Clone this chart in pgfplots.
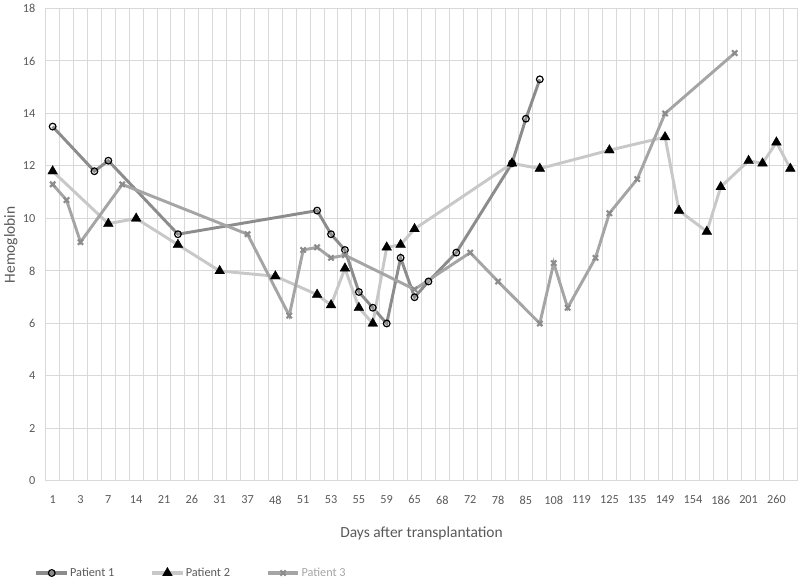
\documentclass[border=0pt]{standalone}
\usepackage{fontspec}
\setmainfont{Carlito}
\usepackage{pgfplots}
\pgfplotsset{compat=1.18}
\definecolor{gridc}{HTML}{D9D9D9}
\definecolor{txt}{HTML}{595959}
\definecolor{pone}{HTML}{8C8C8C}
\definecolor{ponefill}{HTML}{D9D9D9}
\definecolor{ptwo}{HTML}{C8C8C8}
\definecolor{pthree}{HTML}{A5A5A5}
\definecolor{pthreemark}{HTML}{8C8C8C}
\begin{document}
\begin{tikzpicture}
\useasboundingbox (0,0) rectangle (600pt,438pt);
\begin{axis}[
  at={(34.275pt,77.25pt)}, anchor=south west,
  width=563.7pt, height=354.4pt, scale only axis,
  xmin=-0.5, xmax=53.5, ymin=0, ymax=18,
  xtick={0,2,...,52},
  xticklabels={1,3,7,14,21,26,31,37,48,51,53,55,59,65,68,72,78,85,108,119,125,135,149,154,186,201,260},
  minor xtick={-0.5,0.5,...,53.5},
  ytick={0,2,...,18},
  xminorgrids=true, ymajorgrids=true, xmajorgrids=false,
  grid style={gridc, line width=0.75pt},
  minor grid style={gridc, line width=0.75pt},
  axis line style={draw=none},
  major tick length=0pt, minor tick length=0pt,
  tick style={draw=none},
  /pgf/number format/assume math mode=true,
  ticklabel style={font=\fontsize{9.2}{11}\selectfont, text=txt},
  xticklabel style={yshift=-7.5pt},
  yticklabel style={xshift=-4.3pt},
  xlabel={Days after transplantation},
  ylabel={Hemoglobin},
  label style={font=\fontsize{11.6}{14}\selectfont, text=txt},
  xlabel style={at={(axis description cs:0.5,-0.110)}, anchor=center},
  ylabel style={at={(axis description cs:-0.0465,0.5)}, anchor=center, rotate=0},
  legend columns=3,
  legend style={at={(axis description cs:-0.0150,-0.1947)}, anchor=west,
    draw=none, fill=none, inner sep=0pt,
    font=\fontsize{9.2}{11}\selectfont, text=txt,
    nodes={inner sep=1pt},
    /tikz/every even column/.append style={column sep=26pt}},
  legend cell align=left,
  legend image code/.code={\draw[mark repeat=2,mark phase=2,#1,line width=2.6pt] plot coordinates {(0pt,0pt) (11.5pt,0pt) (23pt,0pt)};},
  clip=false,
]
\addplot[pone, line width=2.2pt, mark=o, mark size=2.5pt,
  mark options={solid, draw=black, fill=ponefill, line width=0.9pt}]
coordinates {(0,13.5)(3,11.8)(4,12.2)(9,9.4)(19,10.3)(20,9.4)(21,8.8)(22,7.2)(23,6.6)(24,6.0)(25,8.5)(26,7.0)(27,7.6)(29,8.7)(33,12.1)(34,13.8)(35,15.3)};
\addlegendentry{Patient 1}
\addplot[ptwo, line width=2.2pt, mark=triangle*, mark size=4.2pt,
  mark options={solid, draw=black, fill=black, line width=0.3pt}]
coordinates {(0,11.8)(4,9.8)(6,10.0)(9,9.0)(12,8.0)(16,7.8)(19,7.1)(20,6.7)(21,8.1)(22,6.6)(23,6.0)(24,8.9)(25,9.0)(26,9.6)(33,12.1)(35,11.9)(40,12.6)(44,13.1)(45,10.3)(47,9.5)(48,11.2)(50,12.2)(51,12.1)(52,12.9)(53,11.9)};
\addlegendentry{Patient 2}
\addplot[pthree, line width=2.2pt, mark=x, mark size=2.8pt,
  mark options={solid, draw=pthreemark, line width=1.6pt}]
coordinates {(0,11.3)(1,10.7)(2,9.1)(5,11.3)(14,9.4)(17,6.3)(18,8.8)(19,8.9)(20,8.5)(21,8.6)(26,7.3)(30,8.7)(32,7.6)(35,6.0)(36,8.3)(37,6.6)(39,8.5)(40,10.2)(42,11.5)(44,14.0)(49,16.3)};
\addlegendentry{\textcolor{pthree}{Patient 3}}
\end{axis}
\end{tikzpicture}
\end{document}
